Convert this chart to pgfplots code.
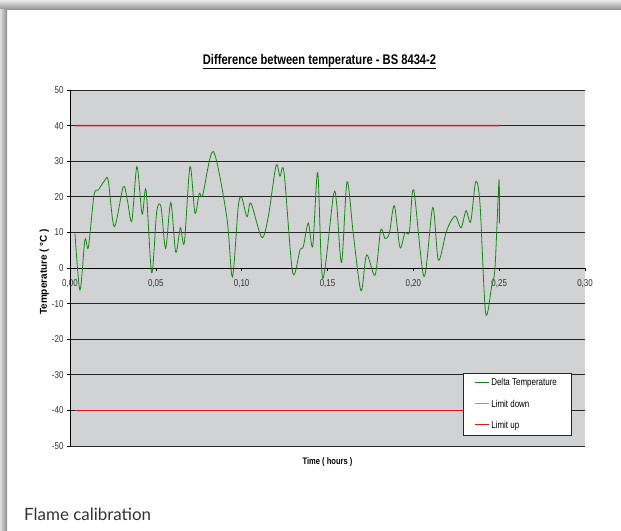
\documentclass[border=0pt]{standalone}
\usepackage{fontspec}
\setmainfont{Liberation Sans}[FakeStretch=0.8]
\newfontfamily\ylabfont{Liberation Sans}
\newfontfamily\capfont{Lato}
\usepackage{pgfplots}
\pgfplotsset{compat=1.18}
\definecolor{plotbg}{RGB}{209,210,212}
\definecolor{dgreen}{RGB}{20,135,20}
\definecolor{limred}{RGB}{225,20,20}
\definecolor{limredb}{RGB}{226,21,21}
\definecolor{limredc}{RGB}{227,22,22}
\definecolor{limpink}{RGB}{250,115,115}
\begin{document}
\begin{tikzpicture}[x=1bp,y=1bp]
\fill[white] (0,0) rectangle (621,531);
\shade[top color=black!8, bottom color=black!45] (0,521) rectangle (621,531);
\shade[left color=black!12, right color=black!45] (0,0) rectangle (7,521);
\node[anchor=base west, font=\capfont\fontsize{17}{20}\selectfont, text=black!80, inner sep=0] at (24,10.3) {Flame calibration};
\begin{axis}[
  at={(70bp,85bp)}, anchor=south west,
  scale only axis, width=515bp, height=356bp,
  xmin=0, xmax=0.3, ymin=-50, ymax=50,
  axis y line=left, axis x line=middle,
  axis line style={-, black, line width=0.8bp},
  axis background/.style={fill=plotbg},
  hide obscured x ticks=false, hide obscured y ticks=false,
  xtick={0,0.05,0.1,0.15,0.2,0.25,0.3},
  xticklabels={{0,00},{0,05},{0,10},{0,15},{0,20},{0,25},{0,30}},
  ytick={-50,-40,-30,-20,-10,0,10,20,30,40,50},
  yticklabels={-50,-40,-30,-20,-10,0,10,20,30,40,50},
  tick align=outside, major tick length=3bp,
  tick style={black, line width=0.6bp},
  ymajorgrids, major grid style={black!85, line width=0.8bp},
  ticklabel style={font=\fontsize{10}{12}\selectfont, text=black!80},
  xticklabel style={yshift=-5bp},
  title={\underline{Difference between temperature - BS 8434-2}},
  title style={at={(axis description cs:0.4845,1)}, anchor=base, yshift=20bp,
    font=\bfseries\fontsize{14}{16}\selectfont, inner sep=0},
  xlabel={Time ( hours )},
  xlabel style={at={(axis description cs:0.5,0)}, anchor=base, yshift=-19bp,
    font=\bfseries\fontsize{9.5}{11}\selectfont, inner sep=0},
  ylabel={Temperature ( °C )},
  ylabel style={at={(axis description cs:-0.0447,0.489)}, anchor=base,
    font=\ylabfont\bfseries\fontsize{10}{12}\selectfont, inner sep=0},
  legend style={at={(axis description cs:0.7631,0.2051)}, anchor=north west,
    draw=black!85, line width=0.6bp, fill=white,
    font=\fontsize{10}{12}\selectfont, row sep=8.5bp,
    inner xsep=12bp, inner ysep=3.5bp,
    cells={anchor=west}},
]
\addplot[draw=dgreen, line width=0.8bp, smooth, tension=0.5, forget plot]
  coordinates {
(0.0029,9.7) (0.0058,-6.2) (0.0087,7.9) (0.0107,5.8) (0.0140,20.5) (0.0165,21.9)
(0.0204,24.7) (0.0223,24.5) (0.0258,11.6) (0.0310,22.8) (0.0334,19.1) (0.0360,13.2)
(0.0390,28.5) (0.0420,15.1) (0.0443,21.9) (0.0476,-1.4) (0.0505,15.8) (0.0530,17.2)
(0.0557,5.5) (0.0587,18.4) (0.0616,4.4) (0.0643,11.3) (0.0666,7.1) (0.0699,28.5)
(0.0728,15.4) (0.0753,21.0) (0.0773,20.5) (0.0835,32.7) (0.0913,14.4) (0.0946,-2.5)
(0.0980,17.2) (0.1000,19.8) (0.1031,14.4) (0.1054,18.2) (0.1117,8.6) (0.1155,14.4)
(0.1200,28.7) (0.1223,25.8) (0.1247,26.8) (0.1297,-1.3) (0.1340,5.1) (0.1359,6.0)
(0.1388,12.6) (0.1414,6.2) (0.1443,26.8) (0.1472,-2.9) (0.1534,20.3) (0.1553,18.2)
(0.1582,1.5) (0.1614,24.2) (0.1650,9.7) (0.1695,-6.4) (0.1728,3.7) (0.1777,-2.0)
(0.1810,10.7) (0.1835,8.3) (0.1860,9.7) (0.1889,17.5) (0.1922,5.8) (0.1951,9.9)
(0.1977,10.2) (0.2002,21.9) (0.2062,-2.4) (0.2113,17.0) (0.2146,2.2) (0.2194,10.5)
(0.2243,14.6) (0.2278,11.3) (0.2307,16.1) (0.2334,13.0) (0.2363,24.2) (0.2388,18.2)
(0.2421,-12.6) (0.2456,-5.2) (0.2476,0.4) (0.2499,24.7) (0.2501,12.5)
};
\addplot[draw=limred, line width=1.4bp, forget plot]
  coordinates {(0.0029,-40) (0.2501,-40)};
\addplot[draw=none, fill=limredb, forget plot]
  coordinates {(0.0029,39.8) (0.2501,39.8) (0.2501,40.2) (0.0029,40.2) (0.0029,39.8)};
\addlegendimage{legend image code/.code={\node[inner sep=0, anchor=west] at (0bp,0bp) {\textcolor{dgreen}{\rule{14bp}{1bp}}};}}
\addlegendentry{Delta Temperature}
\addlegendimage{legend image code/.code={\node[inner sep=0, anchor=west] at (0bp,0bp) {\textcolor{limpink}{\rule{14bp}{1.3bp}}};}}
\addlegendentry{Limit down}
\addlegendimage{legend image code/.code={\node[inner sep=0, anchor=west] at (0bp,0bp) {\textcolor{limredc}{\rule{14bp}{1.3bp}}};}}
\addlegendentry{Limit up}
\end{axis}
\end{tikzpicture}
\end{document}
